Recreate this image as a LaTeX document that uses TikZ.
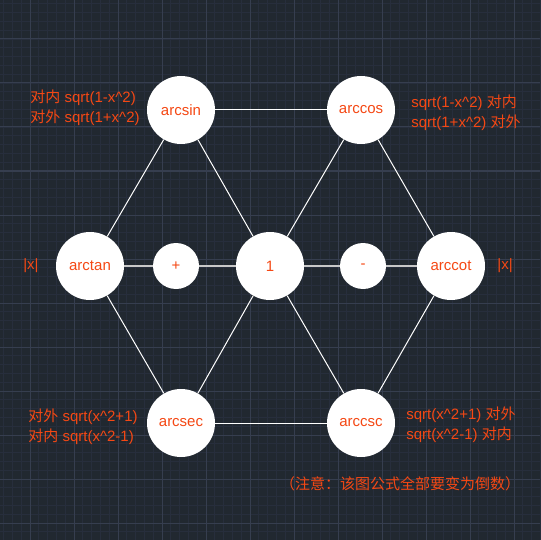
\documentclass[tikz,border=0pt]{standalone}
\usepackage{fontspec}
\setmainfont{Liberation Sans}
\newfontfamily\cjk{Noto Sans CJK SC}
\usetikzlibrary{positioning}
\definecolor{bgcol}{HTML}{212830}
\definecolor{minorcol}{HTML}{272E3C}
\definecolor{majorcol}{HTML}{363E4F}
\definecolor{txtcol}{RGB}{245,72,20}
\definecolor{midcol}{HTML}{C8C8C8}
\newcommand{\zh}[1]{{\cjk #1}}
\newcommand{\pw}{\textasciicircum}
\tikzset{
    bignode/.style = {circle, fill=white, text=txtcol, minimum size=68pt, inner sep=0pt},
    smallnode/.style = {circle, fill=white, text=txtcol, minimum size=46pt, inner sep=0pt},
    edge/.style = {draw, white, line width=1pt},
    midline/.style = {draw, midcol, line width=2pt},
    formula/.style = {text=txtcol, inner sep=0pt, align=left},
    minorgrid/.style = {draw, minorcol, line width=0.9pt},
    majorgrid/.style = {draw, majorcol, line width=1pt}
}

\begin{document}
\begin{tikzpicture}[x=1pt, y=-1pt, font=\fontsize{15pt}{20pt}\selectfont]
        % Background and grid
        \fill [bgcol] (0,0) rectangle (540,540);
        \useasboundingbox (0,0) rectangle (540,540);
        \foreach \i in {-3,...,58} \path [minorgrid] ({30+8.8*\i},0) -- ({30+8.8*\i},540);
        \foreach \i in {-4,...,57} \path [minorgrid] (0,{39+8.8*\i}) -- (540,{39+8.8*\i});
        \foreach \i in {0,...,11} \path [majorgrid] ({30+44*\i},0) -- ({30+44*\i},540);
        \foreach \i in {0,...,11} \path [majorgrid] (0,{39+44*\i}) -- (540,{39+44*\i});

        % Centre row
        \node [bignode] (one) at (270,266) {1};
        \node [smallnode] (plus) at (176,266) {+};
        \node [smallnode] (minus) at (363,266) {-};
        \node [bignode] (arctan) at (90,266) {arctan};
        \node [bignode] (arccot) at (451,266) {arccot};

        % Upper and lower corners
        \node [bignode] (arcsin) at (181,110) {arcsin};
        \node [bignode] (arccos) at (361,110) {arccos};
        \node [bignode] (arcsec) at (181,423) {arcsec};
        \node [bignode] (arccsc) at (361,423) {arccsc};

        % Formulas
        \node [formula, left=7pt of arcsin, yshift=2pt] (sinlab) {\zh{对内} sqrt(1-x\pw2)\\\zh{对外} sqrt(1+x\pw2)};
        \node [formula, right=16pt of arccos, yshift=-2.5pt] (coslab) {sqrt(1-x\pw2) \zh{对内}\\sqrt(1+x\pw2) \zh{对外}};
        \node [formula, left=17pt of arctan] (tanlab) {|x|};
        \node [formula, right=12pt of arccot] (cotlab) {|x|};
        \node [formula, left=9pt of arcsec, yshift=-4pt] (seclab) {\zh{对外} sqrt(x\pw2+1)\\\zh{对内} sqrt(x\pw2-1)};
        \node [formula, right=11pt of arccsc, yshift=-2pt] (csclab) {sqrt(x\pw2+1) \zh{对外}\\sqrt(x\pw2-1) \zh{对内}};

        % Note
        \node [formula] (note) at (400,484) {\zh{（注意：该图公式全部要变为倒数）}};

        % Lines
        \path [midline] (arctan) -- (plus);
        \path [midline] (plus) -- (one);
        \path [midline] (one) -- (minus);
        \path [midline] (minus) -- (arccot);
        \path [edge] (arcsin) -- (arccos);
        \path [edge] (arcsec) -- (arccsc);
        \path [edge] (arcsin) -- (arctan);
        \path [edge] (arcsin) -- (one);
        \path [edge] (arccos) -- (one);
        \path [edge] (arccos) -- (arccot);
        \path [edge] (arcsec) -- (arctan);
        \path [edge] (arcsec) -- (one);
        \path [edge] (arccsc) -- (one);
        \path [edge] (arccsc) -- (arccot);

    \end{tikzpicture}
\end{document}
